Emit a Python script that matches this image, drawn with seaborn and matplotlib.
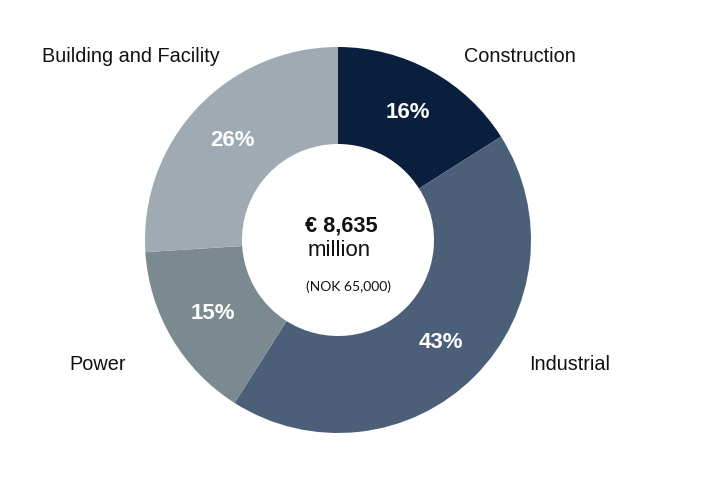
import matplotlib
matplotlib.use("Agg")
import matplotlib.pyplot as plt
import seaborn as sns

categories = ["Construction", "Industrial", "Power", "Building and Facility"]
shares = [16, 43, 15, 26]
colors = ["#0a1f3d", "#4c5f79", "#7b8a90", "#a0aab3"]
center_main = "€ 8,635"
center_unit = "million"
center_sub = "(NOK 65,000)"

sns.set_theme(style="white")
plt.rcParams['font.family'] = ['Liberation Sans', 'DejaVu Sans']

W, H = 707, 478
fig = plt.figure(figsize=(W / 100, H / 100), dpi=100)
cx, cy, half = 338, 240, 200
ax = fig.add_axes([(cx - half) / W, (H - cy - half) / H, 2 * half / W, 2 * half / H])

R, r_in = 193, 96
wedges, texts, autotexts = ax.pie(
    shares, colors=colors, startangle=90, counterclock=False, radius=R,
    autopct=lambda p: f"{p:.0f}%", pctdistance=145 / R,
    wedgeprops=dict(width=R - r_in, edgecolor="none"),
    textprops=dict(color="white", fontsize=16, fontweight="bold"),
    frame=True,
)
ax.set_xlim(-half, half)
ax.set_ylim(-half, half)
ax.axis("off")

def fx(px):
    return px / W

def fy(py):
    return 1 - py / H

label_pos = {
    "Construction": (520, 56),
    "Industrial": (570, 364),
    "Power": (98, 364),
    "Building and Facility": (131, 56),
}
for c in categories:
    x, y = label_pos[c]
    fig.text(fx(x), fy(y), c, ha="center", va="center", fontsize=14.3, color="#111111")

fig.text(fx(341), fy(226), center_main, ha="center", va="center", fontsize=15.7,
         fontweight="bold", color="#111111")
fig.text(fx(339), fy(251), center_unit, ha="center", va="center", fontsize=16,
         color="#111111")
fig.text(fx(349), fy(287), center_sub, ha="center", va="center", fontsize=10,
         color="#111111", family=["Lato", "DejaVu Sans"])

fig.savefig("out.png", dpi=100, facecolor="white")
